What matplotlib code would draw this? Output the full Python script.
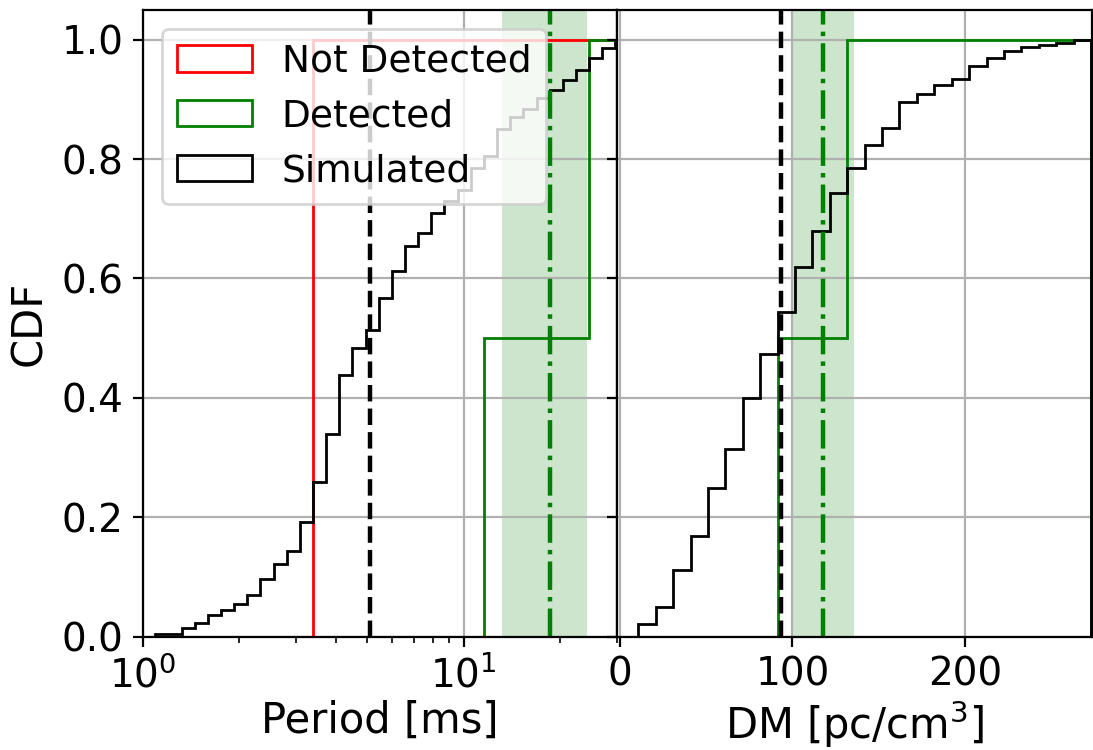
"""
CDF of period and DM: not detected / detected vs simulated population.
"""

import matplotlib
matplotlib.use('Agg')
import matplotlib.pyplot as plt
import numpy as np

# --- period panel -----------------------------------------------------------
# log-spaced bins shared by all three histograms [ms]
period_bin_lo = 1.092
period_bin_hi = 32.7
period_nbins = 36
period_edges = np.logspace(np.log10(period_bin_lo), np.log10(period_bin_hi),
                           period_nbins + 1)

period_not_detected = [3.45]
period_detected = [11.9, 25.0]

# simulated population, cumulative fraction per bin
period_sim_cdf = [0.005, 0.005, 0.014, 0.023, 0.036, 0.044, 0.054, 0.069,
                  0.096, 0.121, 0.144, 0.192, 0.259, 0.340, 0.438, 0.484,
                  0.513, 0.568, 0.612, 0.655, 0.676, 0.710, 0.730, 0.748,
                  0.786, 0.806, 0.850, 0.870, 0.884, 0.903, 0.916, 0.933,
                  0.950, 0.970, 0.986, 1.000]

period_sim_median = 5.12
period_det_mean = 18.6
period_det_band = (13.2, 24.3)

# --- DM panel ---------------------------------------------------------------
dm_bin_lo = 10.7
dm_bin_hi = 273.1
dm_nbins = 26
dm_edges = np.linspace(dm_bin_lo, dm_bin_hi, dm_nbins + 1)

dm_detected = [95.0, 136.0]

dm_sim_cdf = [0.021, 0.049, 0.111, 0.168, 0.249, 0.315, 0.399, 0.473,
              0.544, 0.619, 0.680, 0.743, 0.785, 0.823, 0.852, 0.896,
              0.910, 0.925, 0.935, 0.956, 0.969, 0.981, 0.988, 0.992,
              0.995, 1.000]

dm_sim_median = 93.4
dm_det_mean = 117.6
dm_det_band = (100.3, 135.6)

# ---------------------------------------------------------------------------
fig, (ax1, ax2) = plt.subplots(1, 2, sharey=True, figsize=(5.465, 3.75), dpi=200)
fig.subplots_adjust(left=0.1308, right=0.9991, bottom=0.1513, top=0.9867,
                    wspace=0)

# period
ax1.axvspan(*period_det_band, color='g', alpha=0.2, lw=0)
ax1.hist(period_not_detected, bins=period_edges, histtype='step',
         cumulative=True, density=True, color='r', label='Not Detected')
ax1.hist(period_detected, bins=period_edges, histtype='step',
         cumulative=True, density=True, color='g', label='Detected')
# simulated CDF already binned: one weighted entry per bin
ax1.hist(period_edges[:-1], bins=period_edges, weights=period_sim_cdf,
         histtype='step', color='k', label='Simulated')
ax1.axvline(period_sim_median, color='k', ls='--', lw=1.6)
ax1.axvline(period_det_mean, color='g', ls='-.', lw=1.6)
ax1.set_xscale('log')
ax1.set_xlim(1, 30.2)
ax1.set_ylim(0, 1.05)
ax1.set_xlabel('Period [ms]', fontsize=15, labelpad=1.5)
ax1.set_ylabel('CDF', fontsize=15)
ax1.grid(True)
ax1.tick_params(labelsize=14)
ax1.legend(loc='upper left', fontsize=13.5)

# DM
ax2.axvspan(*dm_det_band, color='g', alpha=0.2, lw=0)
ax2.hist(dm_detected, bins=dm_edges, histtype='step',
         cumulative=True, density=True, color='g')
ax2.hist(dm_edges[:-1], bins=dm_edges, weights=dm_sim_cdf,
         histtype='step', color='k')
ax2.axvline(dm_sim_median, color='k', ls='--', lw=1.6)
ax2.axvline(dm_det_mean, color='g', ls='-.', lw=1.6)
ax2.set_xlim(-1.4, 273.7)
ax2.set_xticks([0, 100, 200])
ax2.set_xlabel('DM [pc/cm$^3$]', fontsize=15, labelpad=1.5)
ax2.grid(True)
ax2.tick_params(labelsize=14)

plt.savefig('out.png', dpi=200, facecolor='white')
